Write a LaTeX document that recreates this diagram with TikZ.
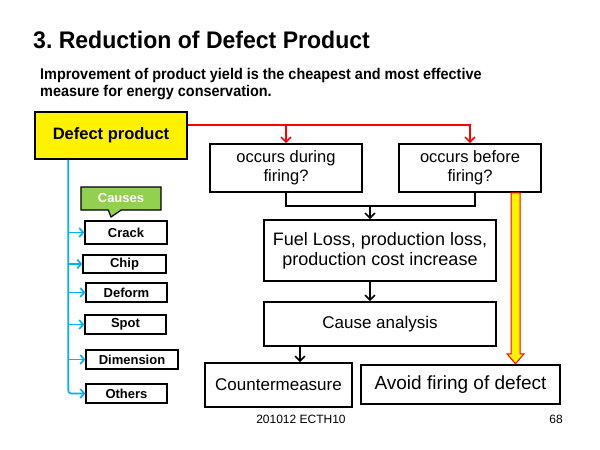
\documentclass[tikz,border=0pt]{standalone}
\usepackage{fontspec}
\setmainfont{Liberation Sans}
\usetikzlibrary{arrows.meta,shapes.callouts}
\definecolor{causeblue}{RGB}{0,176,240}
\definecolor{causegreen}{RGB}{146,208,80}

\begin{document}
\begin{tikzpicture}[x=1pt,y=-1pt,
    box/.style={draw=black,line width=1.6pt,inner sep=0pt,align=center},
    causebox/.style={draw=black,line width=1.4pt,inner sep=0pt,
      font=\fontsize{13}{15}\selectfont\bfseries},
    flow/.style={line width=1.6pt,-{Straight Barb[length=5pt,width=10pt]}},
    redflow/.style={red,line width=1.6pt,-{Straight Barb[length=5pt,width=10pt]}},
    blueflow/.style={causeblue,line width=1.6pt,-{Straight Barb[length=4pt,width=9pt]}}]

  \useasboundingbox (0,0) rectangle (600,450);
  \fill[white] (0,0) rectangle (600,450);

  % heading
  \node[anchor=base west,inner sep=0pt,font=\fontsize{24}{28}\selectfont\bfseries\addfontfeatures{FakeStretch=0.96}]
    (title) at (33,48) {3.\ Reduction of Defect Product};
  \node[anchor=north west,inner sep=0pt,align=left,
    font=\fontsize{15.5}{17.5}\selectfont\bfseries\addfontfeatures{FakeStretch=0.93}]
    (intro) at (40,68) {Improvement of product yield is the cheapest and most effective\\
    measure for energy conservation.};

  % left column
  \node[box,fill=yellow,minimum width=152pt,minimum height=47pt,
    font=\fontsize{16.5}{19}\selectfont\bfseries] (defect) at (111,135.5) {Defect product};
  \node[rectangle callout,draw=black,line width=1.2pt,fill=causegreen,text=white,
    minimum width=80pt,minimum height=23pt,inner sep=0pt,
    callout absolute pointer={(111,217)},callout pointer width=13pt,
    font=\fontsize{13}{14}\selectfont\bfseries] (causes) at (121,198.5) {Causes};

  \node[causebox,minimum width=82pt,minimum height=23pt] (crack)  at (126,232.5) {Crack};
  \node[causebox,minimum width=83pt,minimum height=18pt] (chip)   at (124.5,264) {Chip};
  \node[causebox,minimum width=81pt,minimum height=19pt] (deform) at (126.5,292.5) {Deform};
  \node[causebox,minimum width=81pt,minimum height=19pt] (spot)   at (125.5,324.5) {Spot};
  \node[causebox,minimum width=92pt,minimum height=19pt] (dimen)  at (132,359.5) {Dimension};
  \node[causebox,minimum width=81pt,minimum height=19pt] (others) at (126.5,393.5) {Others};

  \coordinate (trunk) at ([xshift=34pt]defect.south west);
  \draw[blueflow,rounded corners=3pt] (trunk) |- (others.west);
  \foreach \c in {crack,chip,deform,spot,dimen}
    \draw[blueflow] (trunk |- \c.west) -- (\c.west);

  % right column
  \node[box,minimum width=152pt,minimum height=48pt,font=\fontsize{16.5}{19}\selectfont]
    (during) at (286,168) {occurs during\\firing?};
  \node[box,minimum width=142pt,minimum height=48pt,font=\fontsize{16.5}{19}\selectfont]
    (before) at (470,168) {occurs before\\firing?};
  \node[box,minimum width=232pt,minimum height=61pt,font=\fontsize{18}{20}\selectfont]
    (fuel) at (380,250.5) {Fuel Loss, production loss,\\production cost increase};
  \node[box,minimum width=232pt,minimum height=44pt,font=\fontsize{17}{20}\selectfont]
    (cause) at (380,324) {Cause analysis};
  \node[box,minimum width=147pt,minimum height=44pt,font=\fontsize{17}{20}\selectfont]
    (counter) at (278.5,385) {Countermeasure};
  \node[box,minimum width=199pt,minimum height=39pt,font=\fontsize{19}{22}\selectfont]
    (avoid) at (460.5,384.5) {Avoid firing of defect};

  \coordinate (fork) at ([yshift=10.5pt]defect.east);
  \draw[redflow] (fork) -| (before.north);
  \draw[redflow] (during.north |- fork) -- (during.north);

  \coordinate (merge) at (370,206);
  \draw[line width=1.6pt] (during.south) |- (merge) -| ([xshift=5pt]before.south);
  \draw[flow] (merge) -- (merge |- fuel.north);
  \draw[flow] (merge |- fuel.south) -- (merge |- cause.north);
  \coordinate (split) at (300,350);
  \draw[flow] (split |- cause.south) -- (split |- counter.north);

  % yellow arrow, shaft 8, head 17 x 10
  \coordinate (skip) at (515,192);
  \filldraw[draw=red,fill=yellow,line width=1pt]
    ([xshift=-4pt]skip |- before.south) -- ++(0,161) -- ++(-4,0) -- ++(8.5,10)
    -- ++(8.5,-10) -- ++(-4,0) -- ++(0,-161) -- cycle;

  % footer
  \node[anchor=base,inner sep=0pt,font=\fontsize{12}{14}\selectfont] (code) at (301,423) {201012 ECTH10};
  \node[anchor=base east,inner sep=0pt,font=\fontsize{12}{14}\selectfont] (page) at (563,423) {68};

\end{tikzpicture}
\end{document}
